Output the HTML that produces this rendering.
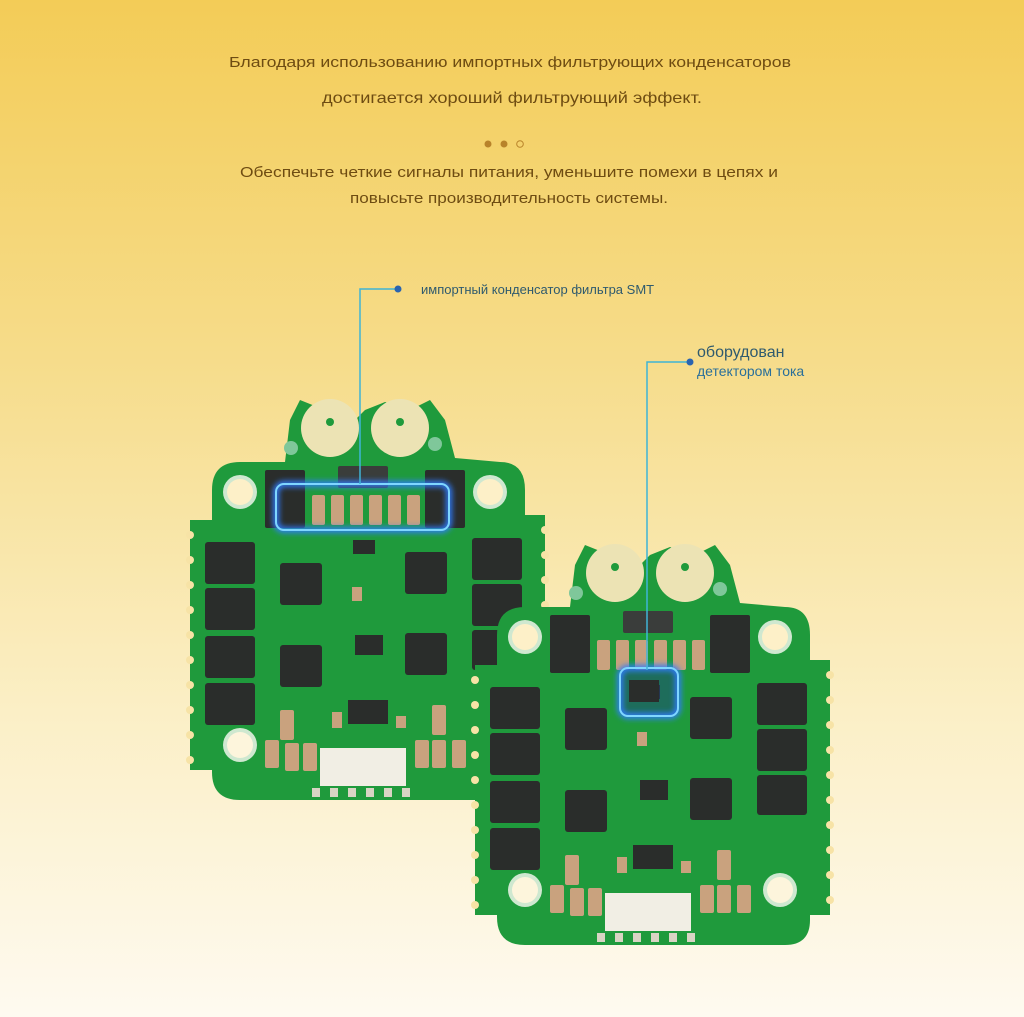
<!DOCTYPE html>
<html><head><meta charset="utf-8"><style>
html,body{margin:0;padding:0;width:1024px;height:1017px;overflow:hidden}
svg{display:block}
text{font-family:"Liberation Sans",sans-serif}
</style></head><body>
<svg width="1024" height="1017" viewBox="0 0 1024 1017">
<defs>
<linearGradient id="bg" x1="0" y1="0" x2="0" y2="1">
<stop offset="0" stop-color="#f3cc57"/><stop offset="0.35" stop-color="#f6dc8a"/><stop offset="0.7" stop-color="#fbefc6"/><stop offset="1" stop-color="#fefaf0"/>
</linearGradient>
<filter id="glow" x="-20%" y="-40%" width="140%" height="180%"><feGaussianBlur stdDeviation="3"/></filter>
<g id="board">
 <!-- side strips -->
 <rect x="190" y="520" width="30" height="250" fill="#1f9a3c"/>
 <rect x="515" y="515" width="30" height="255" fill="#1f9a3c"/>
 <g fill="#f7e3a6">
  <circle cx="190" cy="535" r="4"/><circle cx="190" cy="560" r="4"/><circle cx="190" cy="585" r="4"/><circle cx="190" cy="610" r="4"/><circle cx="190" cy="635" r="4"/><circle cx="190" cy="660" r="4"/><circle cx="190" cy="685" r="4"/><circle cx="190" cy="710" r="4"/><circle cx="190" cy="735" r="4"/><circle cx="190" cy="760" r="4"/>
  <circle cx="545" cy="530" r="4"/><circle cx="545" cy="555" r="4"/><circle cx="545" cy="580" r="4"/><circle cx="545" cy="605" r="4"/><circle cx="545" cy="630" r="4"/><circle cx="545" cy="655" r="4"/><circle cx="545" cy="680" r="4"/><circle cx="545" cy="705" r="4"/><circle cx="545" cy="730" r="4"/><circle cx="545" cy="755" r="4"/>
 </g>
 <!-- body -->
 <path d="M240 462 L285 462 L290 420 L300 400 L320 408 L345 430 L365 410 L385 402 L410 410 L430 400 L445 420 L455 458 L500 462 Q525 462 525 490 L525 775 Q525 800 500 800 L240 800 Q212 800 212 772 L212 490 Q212 462 240 462 Z" fill="#1f9a3c"/>
 <circle cx="330" cy="428" r="29" fill="#ece3b4"/><circle cx="400" cy="428" r="29" fill="#ece3b4"/>
 <circle cx="330" cy="422" r="4" fill="#1f9a3c"/><circle cx="400" cy="422" r="4" fill="#1f9a3c"/>
 <circle cx="291" cy="448" r="7" fill="#7fc79a"/><circle cx="435" cy="444" r="7" fill="#7fc79a"/>
 <!-- holes -->
 <circle cx="240" cy="492" r="17" fill="#cfe8d0"/><circle cx="240" cy="492" r="13" fill="#fdf0c8"/>
 <circle cx="490" cy="492" r="17" fill="#cfe8d0"/><circle cx="490" cy="492" r="13" fill="#fdf0c8"/>
 <circle cx="240" cy="745" r="17" fill="#cfe8d0"/><circle cx="240" cy="745" r="13" fill="#fdf5dc"/>
 <circle cx="495" cy="745" r="17" fill="#cfe8d0"/><circle cx="495" cy="745" r="13" fill="#fdf5dc"/>
 <!-- mosfets -->
 <g fill="#2a2d2b">
  <rect x="205" y="542" width="50" height="42" rx="3"/><rect x="205" y="588" width="50" height="42" rx="3"/><rect x="205" y="636" width="50" height="42" rx="3"/><rect x="205" y="683" width="50" height="42" rx="3"/>
  <rect x="472" y="538" width="50" height="42" rx="3"/><rect x="472" y="584" width="50" height="42" rx="3"/><rect x="472" y="630" width="50" height="40" rx="3"/>
  <rect x="265" y="470" width="40" height="58" rx="2"/><rect x="425" y="470" width="40" height="58" rx="2"/>
  <rect x="338" y="466" width="50" height="22" rx="2" fill="#3a3d3b"/>
  <rect x="280" y="563" width="42" height="42" rx="3"/><rect x="405" y="552" width="42" height="42" rx="3"/>
  <rect x="280" y="645" width="42" height="42" rx="3"/><rect x="405" y="633" width="42" height="42" rx="3"/>
  <rect x="353" y="540" width="22" height="14"/><rect x="355" y="635" width="28" height="20"/><rect x="348" y="700" width="40" height="24"/>
 </g>
 <!-- caps -->
 <g fill="#c9a27e">
  <rect x="312" y="495" width="13" height="30" rx="2"/><rect x="331" y="495" width="13" height="30" rx="2"/><rect x="350" y="495" width="13" height="30" rx="2"/><rect x="369" y="495" width="13" height="30" rx="2"/><rect x="388" y="495" width="13" height="30" rx="2"/><rect x="407" y="495" width="13" height="30" rx="2"/>
  <rect x="280" y="710" width="14" height="30" rx="2"/><rect x="265" y="740" width="14" height="28" rx="2"/><rect x="285" y="743" width="14" height="28" rx="2"/><rect x="303" y="743" width="14" height="28" rx="2"/>
  <rect x="432" y="705" width="14" height="30" rx="2"/><rect x="415" y="740" width="14" height="28" rx="2"/><rect x="432" y="740" width="14" height="28" rx="2"/><rect x="452" y="740" width="14" height="28" rx="2"/>
  <rect x="332" y="712" width="10" height="16"/><rect x="396" y="716" width="10" height="12"/><rect x="352" y="587" width="10" height="14"/>
 </g>
 <rect x="320" y="748" width="86" height="38" fill="#f1eee4"/>
 <g fill="#d9d4c4"><rect x="312" y="788" width="8" height="9"/><rect x="330" y="788" width="8" height="9"/><rect x="348" y="788" width="8" height="9"/><rect x="366" y="788" width="8" height="9"/><rect x="384" y="788" width="8" height="9"/><rect x="402" y="788" width="8" height="9"/></g>
</g>
</defs>
<rect width="1024" height="1017" fill="url(#bg)"/>
<g fill="#6e4c12" text-anchor="middle" font-size="15">
<text x="510" y="67" textLength="562" lengthAdjust="spacingAndGlyphs">Благодаря использованию импортных фильтрующих конденсаторов</text>
<text x="512" y="103" font-size="16" textLength="380" lengthAdjust="spacingAndGlyphs">достигается хороший фильтрующий эффект.</text>
<text x="509" y="177" textLength="538" lengthAdjust="spacingAndGlyphs">Обеспечьте четкие сигналы питания, уменьшите помехи в цепях и</text>
<text x="509" y="203" textLength="318" lengthAdjust="spacingAndGlyphs">повысьте производительность системы.</text>
</g>
<circle cx="488" cy="144" r="3.5" fill="#b8832a"/><circle cx="504" cy="144" r="3.5" fill="#b8832a"/><circle cx="520" cy="144" r="3.3" fill="none" stroke="#b8832a" stroke-width="1"/>
<use href="#board"/>
<use href="#board" transform="translate(285,145)"/>
<!-- glows -->
<rect x="276" y="484" width="173" height="46" rx="8" fill="none" stroke="#2f7bff" stroke-width="6" filter="url(#glow)"/>
<rect x="276" y="484" width="173" height="46" rx="8" fill="none" stroke="#7fd6ff" stroke-width="2"/>
<rect x="620" y="668" width="58" height="48" rx="8" fill="#1d3f7a" opacity="0.5"/>
<rect x="629" y="680" width="30" height="22" fill="#2a2d2b"/>
<rect x="620" y="668" width="58" height="48" rx="8" fill="none" stroke="#2f7bff" stroke-width="6" filter="url(#glow)"/>
<rect x="620" y="668" width="58" height="48" rx="8" fill="none" stroke="#7fd6ff" stroke-width="2"/>
<!-- callouts -->
<polyline points="398,289 360,289 360,484" fill="none" stroke="#3fb4d6" stroke-width="1.5"/>
<circle cx="398" cy="289" r="3.5" fill="#2a64b0"/>
<text x="421" y="294" font-size="13" fill="#2f5a6e">импортный конденсатор фильтра SMT</text>
<polyline points="690,362 647,362 647,670" fill="none" stroke="#3fb4d6" stroke-width="1.5"/>
<circle cx="690" cy="362" r="3.5" fill="#2a64b0"/>
<text x="697" y="357" font-size="16" fill="#2f5a6e">оборудован</text>
<text x="697" y="376" font-size="14" fill="#2a6f9a">детектором тока</text>
</svg>
</body></html>
